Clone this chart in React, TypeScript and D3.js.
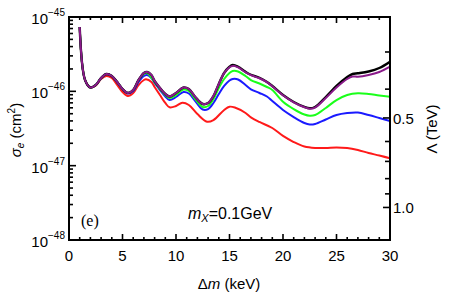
import React from "react";
import * as d3 from "d3";

const dmBlack = [1.0,1.5,2.0,2.5,3.0,3.5,4.0,4.5,5.0,5.5,6.0,6.5,7.0,7.3,7.7,8.0,8.5,9.0,9.4,10.0,10.7,11.2,11.8,12.5,13.0,13.5,14.0,14.5,15.0,15.3,15.8,16.5,17.0,17.8,18.5,19.0,20.0,21.0,22.0,22.5,23.0,24.0,25.0,26.0,26.5,27.0,28.0,29.0,30.0];
const sigBlack = [7.34,1.42,1.126,1.217,1.511,1.711,1.608,1.335,1.075,0.95,1.042,1.42,1.764,1.82,1.658,1.377,1.109,0.921,0.852,0.95,1.126,1.075,0.839,0.675,0.697,0.865,1.255,1.764,2.14,2.26,2.14,1.83,1.67,1.52,1.34,1.18,0.892,0.718,0.616,0.591,0.616,0.839,1.18,1.559,1.711,1.748,1.848,2.06,2.504];
const sigPurple = [7.34,1.42,1.126,1.217,1.511,1.711,1.608,1.335,1.075,0.95,1.042,1.42,1.764,1.82,1.658,1.377,1.109,0.921,0.852,0.95,1.126,1.075,0.839,0.675,0.697,0.865,1.255,1.764,2.11,2.2,2.1,1.8,1.65,1.5,1.33,1.17,0.885,0.712,0.61,0.585,0.605,0.813,1.126,1.465,1.583,1.573,1.658,1.82,2.145];

const dmGreen = [1.0,1.5,2.0,2.5,3.0,3.5,4.0,4.5,5.0,5.5,6.0,6.5,7.0,7.3,8.0,8.5,9.0,9.4,10.0,10.7,11.2,11.8,12.5,13.0,13.5,14.0,14.5,15.0,15.3,15.8,16.5,17.0,17.8,18.5,19.0,20.0,21.0,22.0,22.5,23.0,24.0,25.0,26.0,27.0,28.0,29.0,30.0];
const sigGreen = [7.34,1.42,1.126,1.217,1.511,1.711,1.608,1.335,1.075,0.95,1.042,1.41,1.711,1.764,1.335,1.075,0.892,0.813,0.892,1.058,1.01,0.789,0.616,0.635,0.789,1.109,1.465,1.764,1.877,1.848,1.608,1.42,1.274,1.144,1.042,0.725,0.578,0.488,0.47,0.48,0.597,0.764,0.892,0.941,0.921,0.879,0.847];

const dmBlue = [1.0,1.5,2.0,2.5,3.0,3.5,4.0,4.5,5.0,5.5,6.0,6.5,7.0,7.3,7.7,8.0,8.5,9.0,9.4,10.0,10.7,11.2,11.8,12.5,13.0,13.5,14.0,14.5,15.0,15.3,15.8,16.5,17.0,17.8,18.5,19.0,20.0,21.0,22.0,22.5,23.0,24.0,25.0,26.0,27.0,28.0,29.0,30.0];
const sigBlue = [7.34,1.42,1.126,1.217,1.511,1.711,1.608,1.335,1.075,0.935,1.01,1.335,1.608,1.658,1.511,1.294,1.042,0.852,0.764,0.839,0.979,0.935,0.741,0.569,0.578,0.697,0.921,1.18,1.398,1.465,1.443,1.217,1.065,0.95,0.852,0.741,0.561,0.451,0.375,0.358,0.364,0.418,0.48,0.511,0.519,0.48,0.438,0.399];

const dmRed = [1.0,1.5,2.0,2.5,3.0,3.5,4.0,4.5,5.0,5.5,6.0,6.5,7.0,7.2,7.7,8.0,8.5,9.0,9.4,10.0,10.6,11.2,12.0,12.9,13.5,14.5,15.0,15.5,16.5,17.0,17.8,19.0,20.0,21.0,22.0,23.0,24.0,25.0,26.0,27.0,28.0,29.0,30.0];
const sigRed = [7.34,1.42,1.126,1.2,1.47,1.608,1.511,1.217,0.979,0.865,0.95,1.217,1.42,1.451,1.335,1.144,0.892,0.697,0.61,0.635,0.703,0.655,0.495,0.39,0.411,0.561,0.621,0.606,0.511,0.447,0.387,0.321,0.251,0.208,0.181,0.173,0.173,0.1755,0.173,0.1624,0.148,0.137,0.1256];

const xTicksMajor = [0, 5, 10, 15, 20, 25, 30];
const yDecades = [-48, -47, -46, -45];
const lambdaTicks = [0.3, 0.4, 0.5, 0.6, 0.7, 0.8, 0.9, 1.0];
const lambdaLabels = [0.5, 1.0];
const LAMBDA_CONST = 2.74e-48; // sigma = C / Lambda^4

const W = 459, H = 300;
const L = 69, R = 390, T = 17, B = 240;

export default function App() {
  const x = d3.scaleLinear().domain([0, 30]).range([L, R]);
  const y = d3.scaleLog().domain([1e-48, 1e-45]).range([B, T]);
  const line = d3
    .line<[number, number]>()
    .x((d) => x(d[0]))
    .y((d) => y(d[1] * 1e-46))
    .curve(d3.curveCatmullRom.alpha(0.5));
  const mk = (xs: number[], ys: number[]) => line(xs.map((v, i) => [v, ys[i]] as [number, number])) || "";

  const font = "'Liberation Sans', Arial, sans-serif";
  const ticks: React.ReactElement[] = [];
  for (let v = 0; v <= 30; v++) {
    const major = v % 5 === 0;
    const len = major ? 6 : 3;
    ticks.push(<line key={"xb" + v} x1={x(v)} x2={x(v)} y1={B} y2={B - len} stroke="#000" strokeWidth={1.6} />);
    ticks.push(<line key={"xt" + v} x1={x(v)} x2={x(v)} y1={T} y2={T + len} stroke="#000" strokeWidth={1.6} />);
  }
  for (let e = -48; e < -45; e++) {
    for (let m = 1; m < 10; m++) {
      const v = m * Math.pow(10, e);
      const len = m === 1 ? 7 : 4;
      ticks.push(<line key={"yl" + e + m} x1={L} x2={L + len} y1={y(v)} y2={y(v)} stroke="#000" strokeWidth={1.6} />);
    }
  }
  lambdaTicks.forEach((lam) => {
    const v = LAMBDA_CONST / Math.pow(lam, 4);
    const major = lambdaLabels.some((l) => Math.abs(l - lam) < 1e-9);
    const len = major ? 7 : 5;
    ticks.push(<line key={"yr" + lam} x1={R} x2={R - len} y1={y(v)} y2={y(v)} stroke="#000" strokeWidth={1.6} />);
  });

  return (
    <svg width={W} height={H} style={{ position: "absolute", left: 0, top: 0, background: "#fff", fontFamily: font }}>
      <rect x={0} y={0} width={W} height={H} fill="#fff" />
      <defs>
        <clipPath id="plot">
          <rect x={L} y={T} width={R - L} height={B - T} />
        </clipPath>
      </defs>
      <g clipPath="url(#plot)" fill="none" strokeWidth={2} strokeLinejoin="round">
        <path d={mk(dmRed, sigRed)} stroke="#ff1a1a" />
        <path d={mk(dmBlue, sigBlue)} stroke="#1a1aff" />
        <path d={mk(dmGreen, sigGreen)} stroke="#1aff1a" />
        <path d={mk(dmBlack, sigBlack)} stroke="#000" strokeWidth={2.4} />
        <path d={mk(dmBlack, sigPurple)} stroke="#8a1a8a" strokeWidth={2} />
      </g>
      {ticks}
      <rect x={L} y={T} width={R - L} height={B - T} fill="none" stroke="#000" strokeWidth={2} />
      {xTicksMajor.map((v) => (
        <text key={"xl" + v} x={x(v)} y={261} fontSize={15} textAnchor="middle">{v}</text>
      ))}
      {yDecades.map((e) => (
        <text key={"yd" + e} x={65} y={y(Math.pow(10, e)) + 7} fontSize={15} textAnchor="end">
          10<tspan fontSize={10} dy={-8}>{"\u2212" + Math.abs(e)}</tspan>
        </text>
      ))}
      {lambdaLabels.map((lam) => (
        <text key={"ll" + lam} x={393} y={y(LAMBDA_CONST / Math.pow(lam, 4)) + 6} fontSize={15}>{lam.toFixed(1)}</text>
      ))}
      <text x={229} y={289} fontSize={15} textAnchor="middle">
        Δ<tspan fontStyle="italic">m</tspan> (keV)
      </text>
      <text transform="translate(21,130) rotate(-90)" fontSize={15} textAnchor="middle">
        <tspan fontStyle="italic">σ</tspan><tspan fontSize={10} dy={3} fontStyle="italic">e</tspan><tspan dy={-3}> (cm</tspan><tspan fontSize={10} dy={-6}>2</tspan><tspan dy={6}>)</tspan>
      </text>
      <text transform="translate(437,129) rotate(-90)" fontSize={15} textAnchor="middle">Λ (TeV)</text>
      <text x={81} y={226} fontSize={16} style={{ fontFamily: "'Liberation Serif', 'DejaVu Serif', serif" }}>(e)</text>
      <text x={188} y={219} fontSize={16}>
        <tspan fontStyle="italic">m</tspan><tspan fontSize={11} dy={3} fontStyle="italic">X</tspan><tspan dy={-3}>=0.1GeV</tspan>
      </text>
    </svg>
  );
}
